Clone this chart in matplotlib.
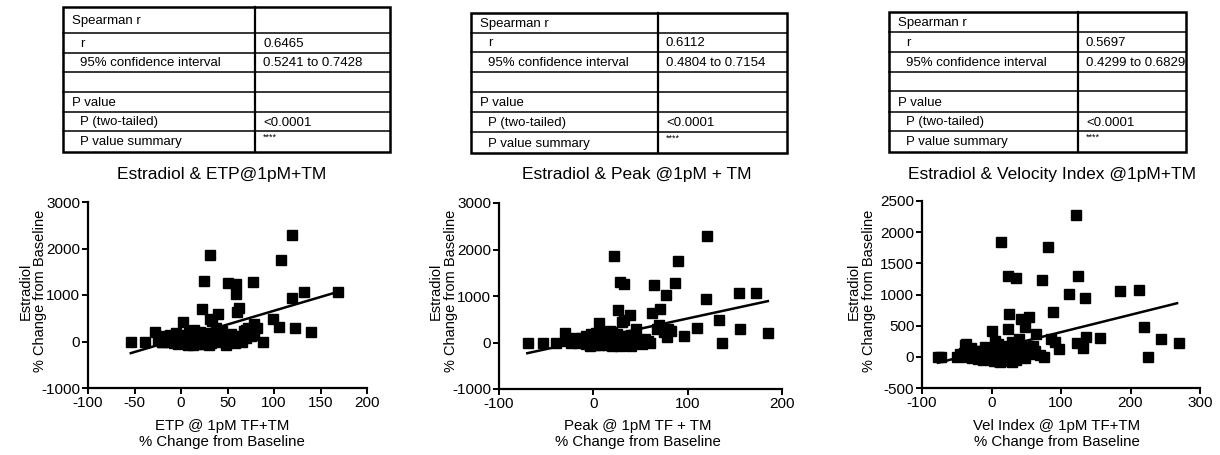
import matplotlib
matplotlib.use("Agg")
import matplotlib.pyplot as plt
from matplotlib.patches import Rectangle
import numpy as np

plt.rcParams['font.family'] = ['Liberation Sans', 'DejaVu Sans']
plt.rcParams['axes.unicode_minus'] = False

W, H = 1220, 455

# estradiol, % change from baseline (same subjects in all three panels)
estradiol = [2280, 1850, 1755, 1300, 1290, 1260, 1230, 1075, 1055, 1015,
             940, 715, 690, 645, 600, 485, 475, 440, 410, 370,
             320, 295, 285, 285, 280, 240, 225, 215, 210, 140,
             120, 0, 0, 0, 0, 0,
             250, 230, 200, 190, 180, 175, 160, 150, 145, 140,
             130, 125, 120, 115, 110, 105, 100, 95, 90, 88,
             85, 80, 75, 72, 70, 65, 62, 60, 55, 52,
             50, 45, 42, 40, 38, 35, 30, 28, 25, 22,
             20, 18, 15, 12, 10, 8, 5, 2, 0, 0,
             -5, -8, -10, -15, -18, -20, -25, -28, -30, -35,
             -40, -45, -50, -55, -60, -65, -70, -75, -80]

etp = [119, 31, 107, 25, 77, 50, 59, 169, 132, 59,
       119, 62, 23, 60, 40, 99, 31, 33, 2, 79,
       105, 82, 123, 38, 72, 70, 68, 140, -28, 79,
       75, 66, 88, -54, -39, -20,
       14, 44, 20, -5, 9, 30, 54, -12, 26, 4,
       37, -18, 16, 60, -2, 23, 8, 42, -22, 12,
       31, 70, -8, 18, 47, 2, -15, 27, 10, 56,
       -4, 35, 20, -25, 6, 65, 14, -10, 40, 24,
       0, 52, -18, 9, 33, 17, -6, 45, 3, 28,
       -12, 12, 38, 5, 21, -20, 58, 0, 15, 32,
       -8, 10, 25, -3, 18, 48, 8, 13, 30]

peak = [120, 22, 90, 28, 87, 33, 64, 172, 154, 77,
        119, 71, 26, 62, 39, 133, 32, 30, 6, 70,
        110, 79, 156, 45, 68, 82, 75, 185, -30, 96,
        78, 60, 136, -69, -53, -40,
        18, 20, 3, -2, 25, 14, 40, 12, 32, -8,
        18, 10, 27, 44, 2, 22, -12, 30, -20, 8,
        16, 55, 0, 24, 36, 4, -15, 12, 20, 48,
        -5, 28, 6, -28, 15, 58, 2, -10, 35, 10,
        26, 42, -22, -3, 18, 8, 13, 30, -6, 22,
        -16, 4, 34, 0, 16, -24, 52, 10, -2, 20,
        -8, 6, 24, 2, 14, 40, -4, 28, 20]

vel = [122, 14, 81, 24, 124, 35, 72, 212, 185, 111,
       135, 88, 25, 54, 42, 219, 48, 24, 1, 64,
       136, 156, 244, 39, 86, 92, 123, 270, -37, 132,
       97, 225, 75, -77, -72, -50,
       5, 30, 10, -38, 20, 60, 45, -10, -30, 25,
       7, 15, 50, 35, -5, 12, -20, 62, -25, 3,
       28, 40, -15, 8, 18, -3, -40, 22, 33, 55,
       0, 14, -12, -45, 6, 70, 17, -22, 38, 10,
       -8, 26, -30, 2, 45, -2, 12, 20, -18, 30,
       -35, 5, 24, -10, 15, -28, 48, 0, -20, 22,
       -5, 8, 35, -12, 28, 10, 4, 12, 30]

# regression line end points
etp_fit_x, etp_fit_y = [-54, 169], [-250, 1070]
peak_fit_x, peak_fit_y = [-70, 185], [-230, 890]
vel_fit_x, vel_fit_y = [-77, 267], [-95, 860]

# Spearman tables
row_labels = ["Spearman r", "r", "95% confidence interval", "",
              "P value", "P (two-tailed)", "P value summary"]
row_indent = [0, 1, 1, 0, 0, 1, 1]
etp_stats = ["", "0.6465", "0.5241 to 0.7428", "", "", "<0.0001", "****"]
peak_stats = ["", "0.6112", "0.4804 to 0.7154", "", "", "<0.0001", "****"]
vel_stats = ["", "0.5697", "0.4299 to 0.6829", "", "", "<0.0001", "****"]

titles = ["Estradiol & ETP@1pM+TM", "Estradiol & Peak @1pM + TM",
          "Estradiol & Velocity Index @1pM+TM"]
xlabels = ["ETP @ 1pM TF+TM", "Peak @ 1pM TF + TM", "Vel Index @ 1pM TF+TM"]
ylabel = "Estradiol\n% Change from Baseline"

fig = plt.figure(figsize=(W / 100, H / 100), dpi=100)
canvas = fig.add_axes([0, 0, 1, 1])
canvas.set_xlim(0, W)
canvas.set_ylim(H, 0)
canvas.axis('off')


def px_axes(left, top, right, bottom):
    return fig.add_axes([left / W, 1 - bottom / H, (right - left) / W, (bottom - top) / H])


def draw_table(left, mid, right, rows, values):
    top, bottom = rows[0], rows[-1]
    for y in rows[1:-1]:
        canvas.plot([left, right], [y, y], color='black', lw=1.1)
    canvas.plot([mid, mid], [top, bottom], color='black', lw=1.6)
    canvas.add_patch(Rectangle((left, top), right - left, bottom - top,
                               fill=False, lw=1.8, ec='black'))
    for i, (lab, ind, val) in enumerate(zip(row_labels, row_indent, values)):
        yc = (rows[i] + rows[i + 1]) / 2 + 1
        canvas.text(left + 9 + 8 * ind, yc, lab, fontsize=9.5, va='center', ha='left')
        if val == "****":
            canvas.text(mid + 8, rows[i] + 2, val, fontsize=6.5, va='top', ha='left')
        else:
            canvas.text(mid + 8, yc, val, fontsize=9.5, va='center', ha='left')


def draw_panel(box, x, y, fit_x, fit_y, xticks, yticks):
    ax = px_axes(*box)
    ax.plot(x, y, 's', color='black', ms=6.5, clip_on=False, zorder=3)
    ax.plot(fit_x, fit_y, color='black', lw=1.8, zorder=4)
    ax.set_xlim(xticks[0], xticks[-1])
    ax.set_ylim(yticks[0], yticks[-1])
    ax.set_xticks(xticks)
    ax.set_yticks(yticks)
    for s in ['top', 'right']:
        ax.spines[s].set_visible(False)
    for s in ['left', 'bottom']:
        ax.spines[s].set_linewidth(1.6)
    ax.tick_params(direction='out', length=4, width=1.4, labelsize=11, pad=1.5)
    ax.patch.set_alpha(0)
    return ax


draw_table(63, 255, 390, [7, 33, 53, 72, 92, 112, 131, 152], etp_stats)
draw_table(471, 658, 787, [13, 33, 52, 72, 92, 112, 132, 153], peak_stats)
draw_table(889, 1078, 1186, [12, 32, 52, 72, 91, 112, 131, 152], vel_stats)

draw_panel((88, 202, 367, 388), etp, estradiol, etp_fit_x, etp_fit_y,
           list(range(-100, 201, 50)), list(range(-1000, 3001, 1000)))
draw_panel((499, 203, 782, 389), peak, estradiol, peak_fit_x, peak_fit_y,
           list(range(-100, 201, 100)), list(range(-1000, 3001, 1000)))
draw_panel((922, 201, 1200, 388), vel, estradiol, vel_fit_x, vel_fit_y,
           list(range(-100, 301, 100)), list(range(-500, 2501, 500)))

for tx, xl_x, yl_x, title, xl in zip([222, 637, 1052], [222, 638, 1057],
                                     [33, 443.5, 861.5], titles, xlabels):
    canvas.text(tx, 174, title, fontsize=12.5, ha='center', va='center')
    canvas.text(xl_x, 434, xl + "\n% Change from Baseline", fontsize=10.8,
                ha='center', va='center', linespacing=1.2)
    canvas.text(yl_x, 291, ylabel, fontsize=10.5, rotation=90,
                ha='center', va='center', linespacing=1.05)

fig.savefig('out.png', dpi=100)
